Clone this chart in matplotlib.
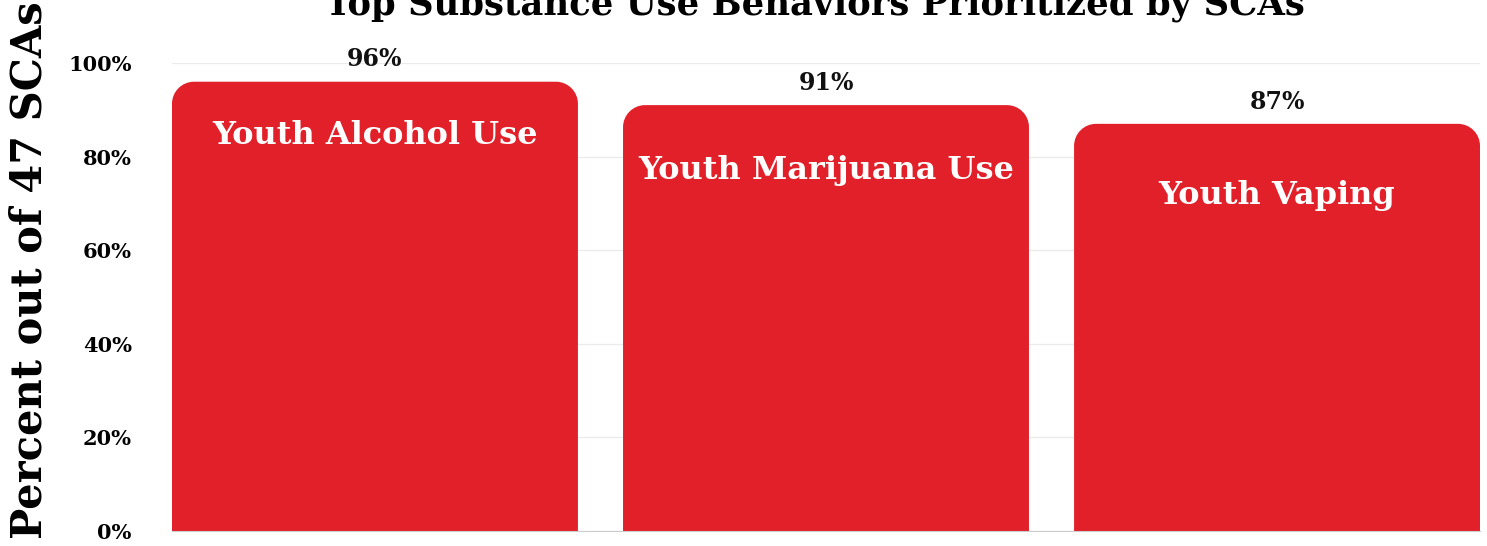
import matplotlib.pyplot as plt
from matplotlib.path import Path
from matplotlib.patches import PathPatch
from matplotlib.ticker import FuncFormatter

categories = ["Youth Alcohol Use", "Youth Marijuana Use", "Youth Vaping"]
values = [96, 91, 87]
y_ticks = [0, 20, 40, 60, 80, 100]

# where the white names sit inside each bar (data units)
inner_label_y = [84.6, 77.1, 71.6]

BAR_COLOR = "#E1202A"
FONT = ["DejaVu Serif"]

plt.rcParams["font.family"] = FONT
plt.rcParams["font.weight"] = "bold"

fig = plt.figure(figsize=(14.87, 5.46), dpi=100)
ax = fig.add_axes([172 / 1487, 1 - 531 / 546, (1480 - 172) / 1487, (531 - 63) / 546])

ax.set_xlim(-0.45, len(categories) - 1 + 0.45)
ax.set_ylim(0, 100)


def rounded_top(x0, w, h, rx, ry):
    """rect with rounded top corners, data coords"""
    k = 0.5523
    x1 = x0 + w
    verts = [
        (x0, 0), (x1, 0), (x1, h - ry),
        (x1, h - ry + k * ry), (x1 - rx + k * rx, h), (x1 - rx, h),
        (x0 + rx, h),
        (x0 + rx - k * rx, h), (x0, h - ry + k * ry), (x0, h - ry),
        (x0, 0),
    ]
    codes = [Path.MOVETO, Path.LINETO, Path.LINETO,
             Path.CURVE4, Path.CURVE4, Path.CURVE4,
             Path.LINETO,
             Path.CURVE4, Path.CURVE4, Path.CURVE4,
             Path.CLOSEPOLY]
    return Path(verts, codes)


bars = ax.bar(range(len(categories)), values, width=0.9, color=BAR_COLOR, zorder=2)

# swap square bars for rounded-top ones (radius ~20px)
fig.canvas.draw()
px_per_x = ax.bbox.width / (ax.get_xlim()[1] - ax.get_xlim()[0])
px_per_y = ax.bbox.height / 100.0
rx, ry = 22 / px_per_x, 22 / px_per_y
for b in bars:
    b.set_visible(False)
    p = rounded_top(b.get_x(), b.get_width(), b.get_height(), rx, ry)
    ax.add_patch(PathPatch(p, facecolor=BAR_COLOR, edgecolor="none", zorder=2))

for i, v in enumerate(values):
    ax.annotate(f"{v}%", (i, v), xytext=(0, 16), textcoords="offset points",
                ha="center", va="center", fontsize=17, fontweight="bold", color="#111111")
    ax.text(i, inner_label_y[i], categories[i], ha="center", va="center",
            fontsize=23, fontweight="bold", color="white", zorder=3)

ax.set_yticks(y_ticks)
ax.yaxis.set_major_formatter(FuncFormatter(lambda v, _: f"{int(v)}%"))
ax.set_xticks([])
ax.tick_params(axis="y", length=0, pad=29, labelsize=15)
for lab in ax.get_yticklabels():
    lab.set_fontweight("bold")
ax.grid(axis="y", color="#ebebeb", linewidth=1, zorder=0)
ax.set_axisbelow(True)
for s in ["top", "right", "left"]:
    ax.spines[s].set_visible(False)
ax.spines["bottom"].set_color("#cccccc")
ax.spines["bottom"].set_zorder(3)

fig.text(30 / 1487, 1 - 270 / 546, "Percent out of 47 SCAs", rotation=90,
         ha="center", va="center", fontsize=30, fontweight="bold")
fig.text(815 / 1487, 1 - 14 / 546, "Top Substance Use Behaviors Prioritized by SCAs",
         ha="center", va="baseline", fontsize=25.5, fontweight="bold")

fig.savefig("out.png", dpi=100)
